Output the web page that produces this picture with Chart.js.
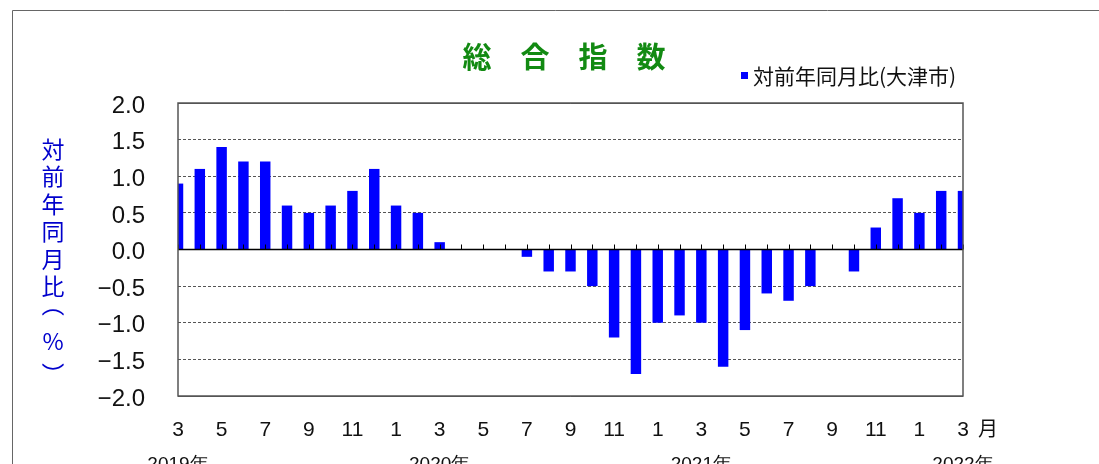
<!DOCTYPE html>
<html lang="ja">
<head>
<meta charset="utf-8">
<script src="https://cdn.jsdelivr.net/npm/chart.js@4.4.0/dist/chart.umd.min.js"></script>
<style>
    html, body { margin: 0; padding: 0; background: #fff; }
    #wrap { width: 1099px; height: 464px; }
</style>
</head>
<body>
<div id="wrap"><canvas id="chart" width="1099" height="464"></canvas></div>
<script>
// ---------------------------------------------
// DATA
// ---------------------------------------------
const months = [3, 4, 5, 6, 7, 8, 9, 10, 11, 12,
    1, 2, 3, 4, 5, 6, 7, 8, 9, 10, 11, 12,
    1, 2, 3, 4, 5, 6, 7, 8, 9, 10, 11, 12,
    1, 2, 3];
const yoyValues = [0.9, 1.1, 1.4, 1.2, 1.2, 0.6, 0.5, 0.6, 0.8, 1.1,
    0.6, 0.5, 0.1, 0, 0, 0, -0.1, -0.3, -0.3, -0.5, -1.2, -1.7,
    -1.0, -0.9, -1.0, -1.6, -1.1, -0.6, -0.7, -0.5, 0, -0.3, 0.3, 0.7,
    0.5, 0.8, 0.8];
const yearLabels = ["2019年", "2020年", "2021年", "2022年"];
const yearLabelIndex = [0, 12, 24, 36];
const titleText = "総　合　指　数";
const seriesName = "対前年同月比(大津市)";
const yAxisTitle = ["対", "前", "年", "同", "月", "比", "︵", "%", "︶"];
const monthUnit = "月";

const JP = "'Noto Sans CJK JP', 'Noto Sans', sans-serif";
const NUM = "'Liberation Sans', Arial, sans-serif";

// ---------------------------------------------
// EXTRA DRAWING: frame, zero line, titles, year labels
// ---------------------------------------------
const decorPlugin = {
    id: "decor",
    afterDatasetsDraw(chart) {
        const { ctx, chartArea: a, scales: { x, y } } = chart;
        const y0 = y.getPixelForValue(0);
        ctx.save();

        // zero line + small ticks
        ctx.strokeStyle = "#000";
        ctx.lineWidth = 1.5;
        ctx.beginPath();
        ctx.moveTo(a.left, y0);
        ctx.lineTo(a.right, y0);
        ctx.stroke();
        ctx.lineWidth = 1;
        months.forEach((m, i) => {
            const px = Math.round(x.getPixelForValue(i)) + 0.5;
            ctx.beginPath();
            ctx.moveTo(px, y0);
            ctx.lineTo(px, y0 - 5);
            ctx.stroke();
        });

        // plot frame
        ctx.strokeStyle = "#555";
        ctx.lineWidth = 1.5;
        ctx.strokeRect(a.left, a.top, a.right - a.left, a.bottom - a.top);
        ctx.restore();
    },
    afterDraw(chart) {
        const { ctx, scales: { x } } = chart;
        ctx.save();

        // outer frame (top + left only)
        ctx.strokeStyle = "#666";
        ctx.lineWidth = 1;
        ctx.beginPath();
        ctx.moveTo(1099, 10.5);
        ctx.lineTo(12.5, 10.5);
        ctx.lineTo(12.5, 464);
        ctx.stroke();

        // title
        ctx.fillStyle = "#128a12";
        ctx.font = "bold 29px " + JP;
        ctx.textAlign = "center";
        ctx.textBaseline = "middle";
        ctx.fillText(titleText, 564, 57);

        // legend
        ctx.fillStyle = "#0000ff";
        ctx.fillRect(741, 72, 7, 7);
        ctx.fillStyle = "#111";
        ctx.font = "21px " + JP;
        ctx.textAlign = "left";
        ctx.fillText(seriesName, 753, 76);

        // vertical y-axis title (bracket glyphs sit off-centre in the em box)
        ctx.fillStyle = "#0000cc";
        ctx.font = "23px " + JP;
        ctx.textAlign = "center";
        const nudge = { "︵": -10, "︶": 5 };
        yAxisTitle.forEach((ch, i) => {
            ctx.fillText(ch, 53, 149 + i * 27.5 + (nudge[ch] || 0));
        });

        // month unit + year labels
        ctx.fillStyle = "#111";
        ctx.font = "20px " + JP;
        ctx.fillText(monthUnit, 988, 428);
        ctx.font = "19px " + NUM;
        ctx.textBaseline = "top";
        yearLabels.forEach((label, i) => {
            ctx.fillText(label, x.getPixelForValue(yearLabelIndex[i]), 455);
        });
        ctx.restore();
    }
};

// ---------------------------------------------
// CHART
// ---------------------------------------------
function initChart() {
    const canvas = document.getElementById("chart");

    new Chart(canvas.getContext("2d"), {
        type: "bar",
        data: {
            labels: months.map(String),
            datasets: [{
                label: seriesName,
                data: yoyValues,
                backgroundColor: "#0000ff",
                borderWidth: 0,
                barPercentage: 1,
                categoryPercentage: 0.48
            }]
        },
        options: {
            responsive: false,
            animation: false,
            layout: { padding: { left: 0, top: 103, right: 136, bottom: 0 } },
            plugins: {
                legend: { display: false },
                title: { display: false },
                tooltip: { enabled: false }
            },
            scales: {
                x: {
                    offset: false,
                    grid: { display: false, drawTicks: false },
                    border: { display: false },
                    ticks: {
                        autoSkip: false,
                        maxRotation: 0,
                        padding: 22,
                        color: "#111",
                        font: { family: NUM, size: 21 },
                        callback: (v, i) => (i % 2 === 0 ? String(months[i]) : "")
                    },
                    afterFit: (scale) => { scale.height = 68; }
                },
                y: {
                    min: -2,
                    max: 2,
                    grid: {
                        drawTicks: false,
                        color: (c) => (c.tick && (c.tick.value === 0) ? "rgba(0,0,0,0)" : "#555"),
                        lineWidth: 1
                    },
                    border: {
                        display: false,
                        dash: (c) => (c.tick && Math.abs(c.tick.value) < 2 ? [3, 2] : [])
                    },
                    ticks: {
                        stepSize: 0.5,
                        padding: 33,
                        labelOffset: 3,
                        color: "#111",
                        font: { family: NUM, size: 24 },
                        callback: (v) => (v < 0 ? "\u2212" + Math.abs(v).toFixed(1) : v.toFixed(1))
                    },
                    afterFit: (scale) => { scale.width = 178; }
                }
            }
        },
        plugins: [decorPlugin]
    });
}

document.addEventListener("DOMContentLoaded", initChart);
</script>
</body>
</html>
